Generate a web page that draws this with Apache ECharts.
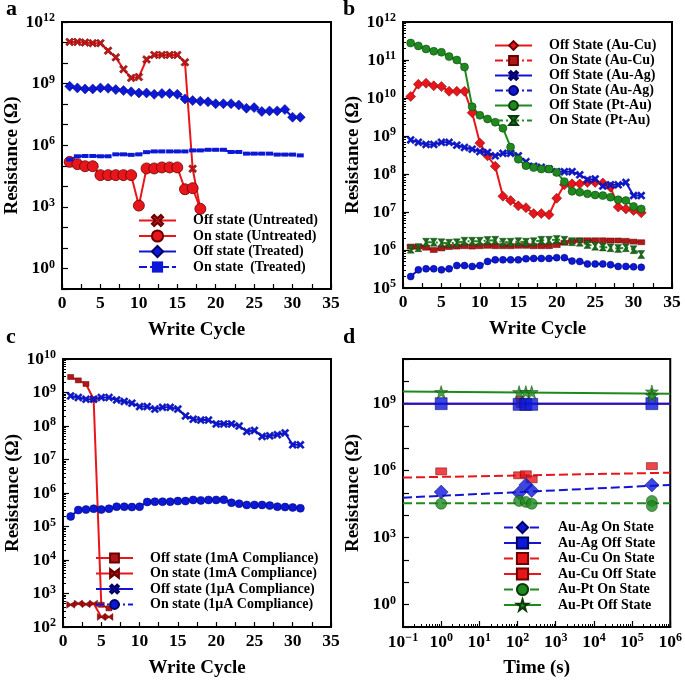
<!DOCTYPE html>
<html>
<head>
<meta charset="utf-8">
<script src="https://cdn.jsdelivr.net/npm/echarts@6/dist/echarts.min.js"></script>
<style>
html,body{margin:0;padding:0;background:#fff;}
#chart{width:685px;height:681px;}
</style>
</head>
<body>
<div id="chart"></div>
<script>
// ---------------- DATA ----------------
const cycles = [1,2,3,4,5,6,7,8,9,10,11,12,13,14,15,16,17,18,19,20,21,22,23,24,25,26,27,28,29,30,31];

// Panel a
const aOffUntreated = [1.07e11,1.07e11,1.0e11,9.3e10,9.3e10,4.0e10,1.9e10,5.0e9,1.9e9,2.1e9,1.5e10,2.5e10,2.5e10,2.5e10,2.5e10,1.1e10,7.2e4,8.0e2];
const aOnUntreated = [1.55e5,1.2e5,9.5e4,9.5e4,3.5e4,3.5e4,3.5e4,3.5e4,3.5e4,1.15e3,7.4e4,7.4e4,8.3e4,8.3e4,8.3e4,7.2e3,8.1e3,8.0e2];
const aOffTreated = [7.4e8,6.2e8,5.5e8,5.5e8,6.2e8,5.9e8,5.1e8,4.6e8,4.0e8,3.5e8,3.5e8,3.0e8,3.3e8,3.3e8,3.0e8,1.8e8,1.5e8,1.4e8,1.3e8,1.05e8,1.05e8,1.05e8,9.1e7,6.3e7,6.8e7,4.4e7,4.7e7,4.7e7,5.5e7,2.3e7,2.3e7];
const aOnTreated = [2.0e5,2.9e5,3.0e5,3.0e5,2.9e5,2.9e5,3.6e5,3.6e5,3.4e5,3.6e5,4.6e5,5.0e5,5.0e5,5.0e5,5.0e5,5.0e5,5.6e5,5.6e5,6.0e5,6.0e5,6.0e5,4.7e5,4.7e5,3.9e5,3.9e5,3.9e5,3.9e5,3.5e5,3.5e5,3.5e5,3.2e5];

// Panel b
const bOffAuCu = [1.1e10,2.3e10,2.45e10,2.1e10,2.0e10,1.5e10,1.5e10,1.5e10,4.1e9,6.5e8,3.0e8,1.6e8,2.6e7,2.0e7,1.45e7,1.3e7,9.1e6,9.1e6,8.5e6,2.3e7,5.2e7,5.5e7,5.5e7,6.0e7,6.0e7,5.8e7,4.5e7,1.35e7,1.2e7,1.1e7,9.5e6];
const bOnAuCu = [1.23e6,1.23e6,1.15e6,1.0e6,1.1e6,1.2e6,1.23e6,1.26e6,1.23e6,1.26e6,1.29e6,1.26e6,1.26e6,1.26e6,1.29e6,1.29e6,1.26e6,1.26e6,1.26e6,1.35e6,1.55e6,1.7e6,1.8e6,1.8e6,1.8e6,1.8e6,1.78e6,1.78e6,1.74e6,1.66e6,1.6e6];
const bOffAuAg = [7.9e8,6.8e8,6.0e8,6.0e8,6.8e8,6.8e8,5.75e8,5.0e8,4.5e8,3.9e8,3.7e8,3.0e8,3.5e8,3.5e8,3.0e8,2.1e8,1.6e8,1.5e8,1.35e8,1.15e8,1.15e8,1.15e8,9.5e7,7.1e7,7.4e7,4.8e7,5.2e7,5.2e7,6.0e7,2.7e7,2.7e7];
const bOnAuAg = [2.0e5,3.0e5,3.2e5,3.2e5,3.0e5,3.2e5,3.9e5,3.9e5,3.7e5,3.9e5,5.0e5,5.5e5,5.5e5,5.5e5,5.5e5,5.9e5,6.0e5,6.0e5,6.0e5,6.3e5,6.3e5,5.1e5,5.0e5,4.3e5,4.3e5,4.3e5,4.1e5,3.7e5,3.7e5,3.6e5,3.5e5];
const bOffPtAu = [2.8e11,2.35e11,1.95e11,1.7e11,1.6e11,1.23e11,1.0e11,6.5e10,5.9e9,3.5e9,2.8e9,2.3e9,1.6e9,5.1e8,2.45e8,1.66e8,1.48e8,1.35e8,1.35e8,1.1e8,6.3e7,3.5e7,3.3e7,3.0e7,2.8e7,2.7e7,2.45e7,2.1e7,2.0e7,1.4e7,1.2e7];
const bOnPtAu = [1.05e6,1.15e6,1.6e6,1.6e6,1.55e6,1.5e6,1.55e6,1.7e6,1.7e6,1.7e6,1.78e6,1.8e6,1.6e6,1.6e6,1.66e6,1.6e6,1.66e6,1.8e6,1.8e6,1.9e6,1.8e6,1.66e6,1.6e6,1.4e6,1.26e6,1.2e6,1.15e6,1.1e6,1.15e6,1.02e6,7.6e5];

// Panel c
const cOffMa = [2.9e9,2.3e9,1.8e9,6.3e8,4.6e2,3.6e2];
const cOnMa = [4.6e2,5.0e2,4.8e2,5.0e2,2.0e2,2.0e2];
const cOffUa = [7.9e8,7.1e8,6.3e8,6.3e8,7.1e8,7.1e8,6.0e8,5.4e8,4.8e8,3.8e8,3.8e8,3.2e8,3.6e8,3.6e8,3.2e8,2.0e8,1.6e8,1.5e8,1.5e8,1.15e8,1.15e8,1.15e8,1.0e8,6.9e7,7.4e7,4.9e7,5.1e7,5.5e7,6.2e7,2.75e7,2.75e7];
const cOnUa = [2.0e5,3.1e5,3.2e5,3.4e5,3.2e5,3.4e5,3.9e5,3.9e5,3.8e5,3.9e5,5.4e5,5.5e5,5.5e5,5.5e5,5.75e5,5.75e5,6.2e5,6.0e5,6.2e5,6.2e5,6.3e5,5.1e5,4.8e5,4.4e5,4.4e5,4.4e5,4.2e5,3.9e5,3.8e5,3.7e5,3.5e5];

// Panel d (time in s)
const dTimes = [1,110,165,235,3.3e5];
const dTimes6 = [1,110,165,235,3.3e5,3.3e5];
const dCuOffTimes = [115];
const fitTimes = [0.1,1e6];
const dAgOn = [1.1e5,1.0e5,2.3e5,1.3e5,2.3e5];
const dAgOff = [1.0e9,9.3e8,9.3e8,9.3e8,1.0e9];
const dCuOn = [9.3e5,6.2e5,6.9e5,4.1e5,1.6e6];
const dCuOff = [1.2e9];
const dPtOn = [3.3e4,4.4e4,4.0e4,3.3e4,4.4e4,2.6e4];
const dPtOff = [3.3e9,3.3e9,3.3e9,3.3e9,3.5e9,2.3e9];
const dAgOnFit = [6.2e4,2.3e5];
const dAgOffFit = [1.0e9,1.0e9];
const dCuOnFit = [4.9e5,8.1e5];
const dCuOffFit = [1.0e9,1.0e9];
const dPtOnFit = [3.5e4,3.5e4];
const dPtOffFit = [3.5e9,2.8e9];

// Tick labels
const aYLabelExp = [0,3,6,9,12];
const dYLabelExp = [0,3,6,9];

// ---------------- HELPERS ----------------
const F = '"Liberation Serif","Times New Roman",serif';
const RED = '#e8161b', REDD = '#6a0000';
const BLUE = '#1414d2', BLUEM = '#0c18d8', BLUED = '#000060';
const GREEN = '#1e8a1e', GREEND = '#0a3a0a';

const L10 = Math.log10;
function pts(xs, ys){ return ys.map((v,i)=>[xs[i], L10(v)]); }
function ptsLog(xs, ys){ return ys.map((v,i)=>[L10(xs[i]), L10(v)]); }
function range(a,b){ const r=[]; for(let i=a;i<=b;i++) r.push(i); return r; }
function minorLog(a,b){ const r=[]; for(let e=a;e<b;e++){ for(let k=2;k<=9;k++) r.push(e+L10(k)); } return r; }

const XPATH = 'path://M0,2 L2,0 L5,3 L8,0 L10,2 L7,5 L10,8 L8,10 L5,7 L2,10 L0,8 L3,5 Z';
const HOURGLASS = 'path://M0,0 L10,0 L6,5 L10,10 L0,10 L4,5 Z';
const BOWTIE = 'path://M0,0 L5,4 L10,0 L10,10 L5,6 L0,10 Z';
const STAR = 'path://M50,0 L61,35 L98,35 L68,57 L79,91 L50,70 L21,91 L32,57 L2,35 L39,35 Z';

const powRich = {
  b:{fontSize:17.5,fontWeight:'bold',fontFamily:F,color:'#000'},
  s:{fontSize:12,fontWeight:'bold',fontFamily:F,color:'#000',padding:[0,0,8,0]}
};
function powFmt(v){ const n=Math.round(v); return '{b|10}{s|'+(n<0?'\u2212':'')+Math.abs(n)+'}'; }

const nameStyle = {fontSize:19,fontWeight:'bold',fontFamily:F,color:'#000'};
const axLine = {show:true,onZero:false,lineStyle:{color:'#000',width:2}};

function cycleX(gi){
  return {gridIndex:gi,type:'value',min:0,max:35,interval:5,position:'bottom',
    name:'Write Cycle',nameLocation:'middle',nameGap:32,nameTextStyle:nameStyle,
    axisLine:axLine,splitLine:{show:false},
    axisTick:{show:true,inside:true,length:5,lineStyle:{color:'#000',width:1.2}},
    minorTick:{show:true,splitNumber:2,length:5,lineStyle:{color:'#000',width:1.2}},
    axisLabel:{margin:5,fontSize:17.5,fontWeight:'bold',fontFamily:F,color:'#000',showMinLabel:true,showMaxLabel:true}};
}
function logY(gi,min,max,labels,ticks,gap){
  return {gridIndex:gi,type:'value',min:min,max:max,position:'left',
    name:'Resistance (\u03A9)',nameLocation:'middle',nameGap:gap,nameTextStyle:nameStyle,
    axisLine:axLine,splitLine:{show:false},
    axisTick:{show:true,inside:true,length:6,customValues:ticks,lineStyle:{color:'#000',width:1.2}},
    axisLabel:{margin:7,customValues:labels,formatter:powFmt,rich:powRich}};
}
function minorAxisY(gi,min,max){
  return {gridIndex:gi,type:'value',min:min,max:max,position:'left',
    axisLine:{show:false,onZero:false},splitLine:{show:false},axisLabel:{show:false},
    axisTick:{show:true,inside:true,length:3,customValues:minorLog(min,max),lineStyle:{color:'#000',width:1}}};
}

const lgText = {fontSize:14,lineHeight:15,fontWeight:'bold',fontFamily:F,color:'#000',padding:[0,0,0,12]};
function legend(names,left,top,ih,gap){
  return {data:names,left:left,top:top,orient:'vertical',itemWidth:37,itemHeight:ih,itemGap:gap,
    textStyle:lgText,selectedMode:false,padding:0};
}

function ser(name,xi,yi,data,o){
  return Object.assign({name:name,type:'line',xAxisIndex:xi,yAxisIndex:yi,data:data,
    showSymbol:true,z:3},o);
}

// ---------------- OPTION ----------------
const names = {
  a:['Off state (Untreated)','On state (Untreated)','Off state (Treated)','On state  (Treated)'],
  b:['Off State (Au-Cu)','On State (Au-Cu)','Off State (Au-Ag)','On State (Au-Ag)','Off State (Pt-Au)','On State (Pt-Au)'],
  c:['Off state (1mA Compliance)','On state (1mA Compliance)','Off state (1\u03bcA Compliance)','On state (1\u03bcA Compliance)'],
  d:['Au-Ag On State','Au-Ag Off State','Au-Cu On State','Au-Cu Off State','Au-Pt On State','Au-Pt Off State']
};

const series = [
  // Panel a
  ser(names.a[0],0,0,pts(cycles,aOffUntreated),{symbol:XPATH,symbolSize:8,lineStyle:{color:RED,width:2},itemStyle:{color:'#c01818',borderColor:REDD,borderWidth:0.6}}),
  ser(names.a[1],0,0,pts(cycles,aOnUntreated),{symbol:'circle',symbolSize:11,lineStyle:{color:RED,width:2},itemStyle:{color:RED,borderColor:REDD,borderWidth:0.8}}),
  ser(names.a[2],0,0,pts(cycles,aOffTreated),{symbol:'diamond',symbolSize:10,lineStyle:{color:BLUE,width:2},itemStyle:{color:BLUEM,borderColor:BLUED,borderWidth:0.5}}),
  ser(names.a[3],0,0,pts(cycles,aOnTreated),{symbol:'rect',symbolSize:[7,4],lineStyle:{color:BLUE,width:2,type:[8,3]},itemStyle:{color:BLUEM}}),
  // Panel b
  ser(names.b[0],1,1,pts(cycles,bOffAuCu),{symbol:'diamond',symbolSize:10,lineStyle:{color:RED,width:2},itemStyle:{color:RED,borderColor:REDD,borderWidth:0.5}}),
  ser(names.b[1],1,1,pts(cycles,bOnAuCu),{symbol:'rect',symbolSize:[7,5],lineStyle:{color:RED,width:2,type:[8,3,2,3]},itemStyle:{color:'#b01818',borderColor:REDD,borderWidth:0.5}}),
  ser(names.b[2],1,1,pts(cycles,bOffAuAg),{symbol:XPATH,symbolSize:8,lineStyle:{color:BLUE,width:2},itemStyle:{color:BLUEM,borderColor:BLUED,borderWidth:0.4}}),
  ser(names.b[3],1,1,pts(cycles,bOnAuAg),{symbol:'circle',symbolSize:7,lineStyle:{color:BLUE,width:2,type:[8,3,2,3]},itemStyle:{color:BLUEM,borderColor:BLUED,borderWidth:0.5}}),
  ser(names.b[4],1,1,pts(cycles,bOffPtAu),{symbol:'circle',symbolSize:8,lineStyle:{color:GREEN,width:2},itemStyle:{color:GREEN,borderColor:GREEND,borderWidth:0.5}}),
  ser(names.b[5],1,1,pts(cycles,bOnPtAu),{symbol:HOURGLASS,symbolSize:[7,8],lineStyle:{color:GREEN,width:2,type:[8,3,2,3]},itemStyle:{color:'#1a6a1a',borderColor:GREEND,borderWidth:0.4}}),
  // Panel c
  ser(names.c[0],2,2,pts(cycles,cOffMa),{symbol:'rect',symbolSize:[6,5],lineStyle:{color:RED,width:2},itemStyle:{color:'#b01818',borderColor:REDD,borderWidth:0.5}}),
  ser(names.c[1],2,2,pts(cycles,cOnMa),{symbol:BOWTIE,symbolSize:[8,7],lineStyle:{color:RED,width:2},itemStyle:{color:'#a01010',borderColor:REDD,borderWidth:0.4}}),
  ser(names.c[2],2,2,pts(cycles,cOffUa),{symbol:XPATH,symbolSize:8,lineStyle:{color:BLUE,width:2},itemStyle:{color:BLUEM,borderColor:BLUED,borderWidth:0.4}}),
  ser(names.c[3],2,2,pts(cycles,cOnUa),{symbol:'circle',symbolSize:8,lineStyle:{color:BLUE,width:2,type:[8,3,2,3]},itemStyle:{color:BLUEM,borderColor:BLUED,borderWidth:0.5}}),
  // Panel d : fit lines (named, used by legend)
  ser(names.d[3],3,3,ptsLog(fitTimes,dCuOffFit),{symbol:'rect',symbolSize:[7,11],showSymbol:false,lineStyle:{color:RED,width:2},itemStyle:{color:RED,borderColor:REDD,borderWidth:0.6},z:2}),
  ser(names.d[1],3,3,ptsLog(fitTimes,dAgOffFit),{symbol:'rect',symbolSize:12,showSymbol:false,lineStyle:{color:BLUE,width:2},itemStyle:{color:BLUEM,borderColor:BLUED,borderWidth:0.6},z:2}),
  ser(names.d[5],3,3,ptsLog(fitTimes,dPtOffFit),{symbol:STAR,symbolSize:13,showSymbol:false,lineStyle:{color:GREEN,width:2},itemStyle:{color:GREEN,borderColor:GREEND,borderWidth:0.6},z:2}),
  ser(names.d[2],3,3,ptsLog(fitTimes,dCuOnFit),{symbol:'rect',symbolSize:[11,7],showSymbol:false,lineStyle:{color:RED,width:2,type:[9,4]},itemStyle:{color:RED,borderColor:REDD,borderWidth:0.6},z:2}),
  ser(names.d[0],3,3,ptsLog(fitTimes,dAgOnFit),{symbol:'diamond',symbolSize:14,showSymbol:false,lineStyle:{color:BLUE,width:2,type:[9,4]},itemStyle:{color:BLUEM,borderColor:BLUED,borderWidth:0.6},z:2}),
  ser(names.d[4],3,3,ptsLog(fitTimes,dPtOnFit),{symbol:'circle',symbolSize:11,showSymbol:false,lineStyle:{color:GREEN,width:2,type:[9,4]},itemStyle:{color:GREEN,borderColor:GREEND,borderWidth:0.6},z:2}),
  // Panel d : measured points
  {name:'cuOffPts',type:'scatter',xAxisIndex:3,yAxisIndex:3,data:ptsLog(dCuOffTimes,dCuOff),symbol:'rect',symbolSize:[7,11],itemStyle:{color:RED,borderColor:REDD,borderWidth:0.6},z:3},
  {name:'agOffPts',type:'scatter',xAxisIndex:3,yAxisIndex:3,data:ptsLog(dTimes,dAgOff),symbol:'rect',symbolSize:12,itemStyle:{color:BLUEM,borderColor:BLUED,borderWidth:0.6},z:4},
  {name:'ptOffPts',type:'scatter',xAxisIndex:3,yAxisIndex:3,data:ptsLog(dTimes6,dPtOff),symbol:STAR,symbolSize:13,itemStyle:{color:GREEN,borderColor:GREEND,borderWidth:0.6},z:4},
  {name:'cuOnPts',type:'scatter',xAxisIndex:3,yAxisIndex:3,data:ptsLog(dTimes,dCuOn),symbol:'rect',symbolSize:[11,7],itemStyle:{color:RED,borderColor:REDD,borderWidth:0.6},z:4},
  {name:'agOnPts',type:'scatter',xAxisIndex:3,yAxisIndex:3,data:ptsLog(dTimes,dAgOn),symbol:'diamond',symbolSize:14,itemStyle:{color:BLUEM,borderColor:BLUED,borderWidth:0.6},z:4},
  {name:'ptOnPts',type:'scatter',xAxisIndex:3,yAxisIndex:3,data:ptsLog(dTimes6,dPtOn),symbol:'circle',symbolSize:11,itemStyle:{color:GREEN,borderColor:GREEND,borderWidth:0.6},z:4}
];

const option = {
  animation:false,
  backgroundColor:'#fff',
  textStyle:{fontFamily:F},
  grid:[
    {left:62,top:22,width:269,height:267,show:true,borderColor:'#000',borderWidth:2,backgroundColor:'transparent'},
    {left:403,top:22,width:269,height:266,show:true,borderColor:'#000',borderWidth:2,backgroundColor:'transparent'},
    {left:63,top:359,width:268,height:268,show:true,borderColor:'#000',borderWidth:2,backgroundColor:'transparent'},
    {left:403,top:359,width:269,height:268,show:true,borderColor:'#000',borderWidth:2,backgroundColor:'transparent'}
  ],
  xAxis:[
    cycleX(0), cycleX(1), cycleX(2),
    {gridIndex:3,type:'value',min:-1,max:6,interval:1,position:'bottom',
      name:'Time (s)',nameLocation:'middle',nameGap:32,nameTextStyle:nameStyle,
      axisLine:axLine,splitLine:{show:false},
      axisTick:{show:true,inside:true,length:6,lineStyle:{color:'#000',width:1.2}},
      axisLabel:{margin:5,formatter:powFmt,rich:powRich,showMinLabel:true,showMaxLabel:true}},
    {gridIndex:3,type:'value',min:-1,max:6,position:'bottom',
      axisLine:{show:false,onZero:false},splitLine:{show:false},axisLabel:{show:false},
      axisTick:{show:true,inside:true,length:3,customValues:minorLog(-1,6),lineStyle:{color:'#000',width:1}}}
  ],
  yAxis:[
    logY(0,-1,12,aYLabelExp,range(-1,12),40),
    logY(1,5,12,range(5,12),range(5,12),40),
    logY(2,2,10,range(2,10),range(2,10),40),
    logY(3,-1,11,dYLabelExp,range(-1,11),40),
    minorAxisY(1,5,12),
    minorAxisY(2,2,10)
  ],
  legend:[
    legend(names.a,138,213,14,0.5),
    legend(names.b,494,38,11,0),
    legend(names.c,95,550.5,11,0.5),
    legend(names.d,503,520,14,0.5)
  ],
  graphic:[
    {type:'text',left:6,top:-2,style:{text:'a',font:'bold 22px '+F,fill:'#000'}},
    {type:'text',left:343,top:-2,style:{text:'b',font:'bold 22px '+F,fill:'#000'}},
    {type:'text',left:6,top:326,style:{text:'c',font:'bold 22px '+F,fill:'#000'}},
    {type:'text',left:343,top:326,style:{text:'d',font:'bold 22px '+F,fill:'#000'}}
  ],
  series:series
};

const chart = echarts.init(document.getElementById('chart'),null,{renderer:'canvas'});
chart.setOption(option);
</script>
</body>
</html>
